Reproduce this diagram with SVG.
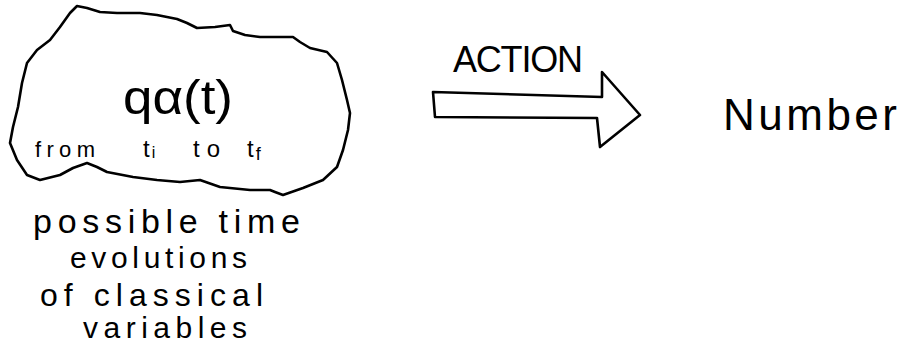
<svg xmlns="http://www.w3.org/2000/svg" width="900" height="355" viewBox="0 0 900 355">
  <style>
    .ink { fill: none; stroke: #000; stroke-width: 2.6; stroke-linejoin: round; stroke-linecap: round; }
    .hand { font-family: "Liberation Sans", "DejaVu Sans", sans-serif; fill: #000; }
  </style>
  <rect width="900" height="355" fill="#fff"/>
  <g id="paths-node">
    <path class="ink" d="M77,6 L87,8 L100,12 L117,13 L140,13 L157,15 L177,19 L187,23 L197,28 L215,27 L230,25 L233,31 L245,35 L260,37 L293,37 L300,42 L310,48 L327,52 L337,63 L342,80 L347,100 L350,113 L348,130 L343,150 L337,167 L323,180 L303,188 L283,195 L275,192 L270,190 L250,190 L220,187 L200,180 L180,182 L157,180 L133,177 L107,172 L97,167 L87,163 L73,168 L60,175 L40,180 L27,175 L17,160 L10,143 L13,127 L18,107 L22,83 L27,63 L37,50 L50,40 L60,27 L70,13 Z"/>
    <text class="hand" x="123" y="114" font-size="48" textLength="110" lengthAdjust="spacingAndGlyphs">qα(t)</text>
    <text class="hand" x="35" y="157" font-size="22" textLength="60" lengthAdjust="spacing">from</text>
    <text class="hand" x="143" y="157" font-size="24">t<tspan font-size="16" dy="1" dx="2">i</tspan></text>
    <text class="hand" x="193" y="157" font-size="24" textLength="27" lengthAdjust="spacing">to</text>
    <text class="hand" x="247" y="157" font-size="24">t<tspan font-size="18" dy="3" dx="2">f</tspan></text>
  </g>
  <g id="caption-node">
    <text class="hand" x="33" y="233" font-size="34" textLength="267" lengthAdjust="spacing">possible time</text>
    <text class="hand" x="70" y="268" font-size="30" textLength="177" lengthAdjust="spacing">evolutions</text>
    <text class="hand" x="40" y="306" font-size="32" textLength="223" lengthAdjust="spacing">of classical</text>
    <text class="hand" x="83" y="338" font-size="30" textLength="164" lengthAdjust="spacing">variables</text>
  </g>
  <g id="connectors">
    <path class="ink" stroke-width="3" d="M433,92 L602,97 L602,72 L640,115 L600,147 L597,118 L435,117 Z"/>
    <text class="hand" x="453" y="72" font-size="36" textLength="130" lengthAdjust="spacing">ACTION</text>
  </g>
  <g id="number-node">
    <text class="hand" x="723" y="130" font-size="44" textLength="174" lengthAdjust="spacing">Number</text>
  </g>
</svg>
